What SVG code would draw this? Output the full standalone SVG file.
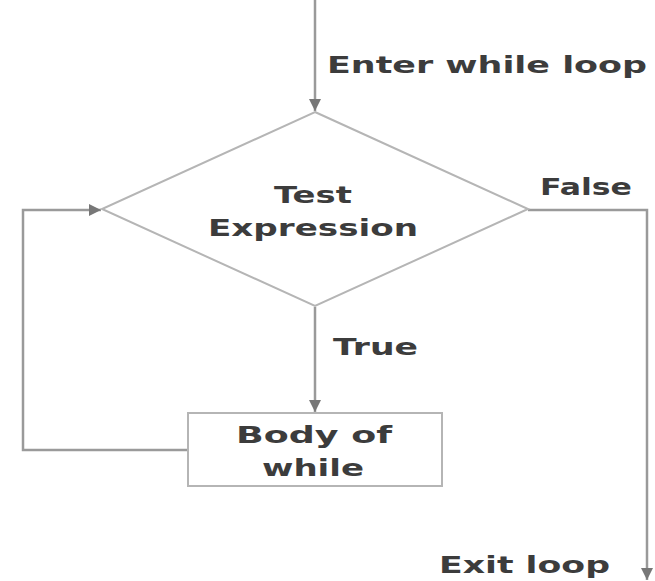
<svg xmlns="http://www.w3.org/2000/svg" width="655" height="581" viewBox="0 0 655 581">
<style>
.lbl{font-family:"DejaVu Sans","Liberation Sans",sans-serif;font-weight:bold;font-size:23px;fill:#3c3c3c;}
.ln{stroke:#9a9a9a;stroke-width:2.5;fill:none;}
.shape{stroke:#b5b5b5;stroke-width:2;fill:#ffffff;}
</style>
<defs>
<marker id="ah" viewBox="0 0 10 10" refX="10" refY="5" markerWidth="5" markerHeight="5" orient="auto" markerUnits="strokeWidth">
<path d="M0,0 L10,5 L0,10 z" fill="#777777"/>
</marker>
</defs>
<rect width="655" height="581" fill="#ffffff"/>
<g id="connectors">
<path class="ln" d="M315,0 V111" marker-end="url(#ah)"/>
<path class="ln" d="M315,307 V412" marker-end="url(#ah)"/>
<path class="ln" d="M188,450 H23 V210 H101" marker-end="url(#ah)"/>
<path class="ln" d="M528,210 H647 V580" marker-end="url(#ah)"/>
</g>
<g id="test">
<polygon class="shape" points="315,112 528,209 315,306 102,209"/>
<text class="lbl" x="313" y="203" text-anchor="middle" textLength="78" lengthAdjust="spacingAndGlyphs">Test</text>
<text class="lbl" x="313" y="236" text-anchor="middle" textLength="210" lengthAdjust="spacingAndGlyphs">Expression</text>
</g>
<g id="body">
<rect class="shape" x="188" y="413" width="254" height="73"/>
<text class="lbl" x="314" y="443" text-anchor="middle" textLength="156" lengthAdjust="spacingAndGlyphs">Body of</text>
<text class="lbl" x="313" y="476" text-anchor="middle" textLength="102" lengthAdjust="spacingAndGlyphs">while</text>
</g>
<g id="labels">
<text class="lbl" x="327" y="73" textLength="320" lengthAdjust="spacingAndGlyphs">Enter while loop</text>
<text class="lbl" x="540" y="195" textLength="92" lengthAdjust="spacingAndGlyphs">False</text>
<text class="lbl" x="333" y="355" textLength="85" lengthAdjust="spacingAndGlyphs">True</text>
<text class="lbl" x="439" y="573" textLength="171" lengthAdjust="spacingAndGlyphs">Exit loop</text>
</g>
</svg>
